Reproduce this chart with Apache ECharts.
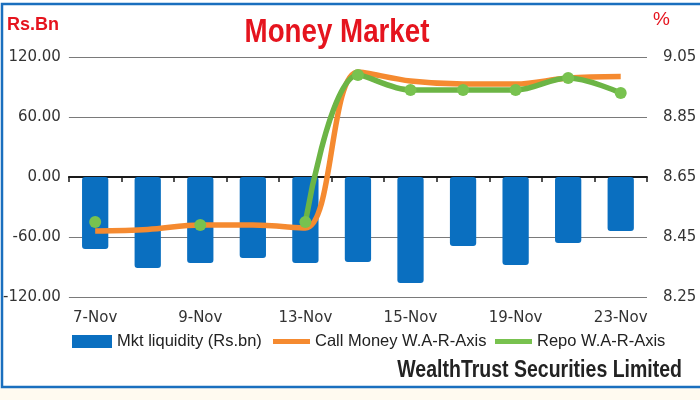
<!DOCTYPE html>
<html>
<head>
<meta charset="utf-8">
<script src="https://cdn.jsdelivr.net/npm/echarts@6/dist/echarts.min.js"></script>
<style>
html,body{margin:0;padding:0;background:#fff;}
#chart{width:700px;height:400px;}
</style>
</head>
<body>
<div id="chart"></div>
<script>
const categories = ['7-Nov','8-Nov','9-Nov','12-Nov','13-Nov','14-Nov','15-Nov','16-Nov','19-Nov','21-Nov','23-Nov'];
const mktLiquidity = [-72, -91, -86, -81, -86, -85, -106, -69, -88, -66, -54];
const callMoney = [8.47, 8.475, 8.49, 8.49, 8.48, 9.00, 8.97, 8.96, 8.96, 8.98, 8.985];
const repo = [8.50, null, 8.49, null, 8.50, 8.99, 8.94, 8.94, 8.94, 8.98, 8.93];
const leftTicks = {min: -120, max: 120, interval: 60};
const rightTicks = {min: 8.25, max: 9.05, interval: 0.2};
const seriesNames = ['Mkt liquidity (Rs.bn)', 'Call Money W.A-R-Axis', 'Repo W.A-R-Axis'];
const chartTitle = 'Money Market';
const leftUnit = 'Rs.Bn';
const rightUnit = '%';
const sourceText = 'WealthTrust Securities Limited';

const sans = '"Liberation Sans", Arial, sans-serif';
const legendText = {fontFamily: sans, fontSize: 16.5, color: '#222'};
const chart = echarts.init(document.getElementById('chart'));
chart.setOption({
  animation: false,
  backgroundColor: '#ffffff',
  graphic: [
    {type: 'rect', shape: {x: 0, y: 388, width: 700, height: 12}, style: {fill: '#fffaf0'}, silent: true, z: -10},
    {type: 'rect', shape: {x: 2, y: 4, width: 720, height: 383}, style: {fill: 'none', stroke: '#1a6fbe', lineWidth: 2.5}, silent: true, z: -5},
    {type: 'text', x: 337, y: 16, scaleX: 0.84, silent: true,
     style: {text: chartTitle, textAlign: 'center', textVerticalAlign: 'top', verticalAlign: 'top',
             font: 'bold 33px ' + sans, fill: '#e5141e'}},
    {type: 'text', x: 682, y: 359, scaleX: 0.83, silent: true,
     style: {text: sourceText, textAlign: 'right', textVerticalAlign: 'top', verticalAlign: 'top',
             font: 'bold 23.5px ' + sans, fill: '#222'}}
  ],
  title: [
    {text: leftUnit, left: 7, top: 16, padding: 0,
     textStyle: {fontFamily: sans, fontWeight: 'bold', fontSize: 18, color: '#e5141e'}},
    {text: rightUnit, left: 653, top: 10, padding: 0,
     textStyle: {fontFamily: sans, fontWeight: 'normal', fontSize: 19, color: '#e5141e'}}
  ],
  legend: [
    {left: 72, top: 333, itemWidth: 40, itemHeight: 13, padding: 0, textStyle: legendText,
     data: [{name: seriesNames[0], icon: 'rect'}]},
    {left: 273, top: 333, itemWidth: 37, itemHeight: 5, padding: 0, textStyle: legendText,
     data: [{name: seriesNames[1], icon: 'rect'}]},
    {left: 495, top: 333, itemWidth: 37, itemHeight: 5, padding: 0, textStyle: legendText,
     data: [{name: seriesNames[2], icon: 'rect'}]}
  ],
  grid: {left: 68, right: 53, top: 57, bottom: 103, containLabel: false},
  xAxis: [
    {type: 'category', data: categories, position: 'bottom',
     axisLine: {show: true, onZero: true, onZeroAxisIndex: 0, lineStyle: {color: '#1a1a1a', width: 2}},
     axisTick: {show: true, length: 5, lineStyle: {color: '#1a1a1a', width: 1.5}},
     axisLabel: {show: false}, splitLine: {show: false}},
    {type: 'category', data: categories, position: 'bottom',
     axisLine: {show: false}, axisTick: {show: false}, splitLine: {show: false},
     axisLabel: {show: true, interval: 1, margin: 14, color: '#333', fontFamily: '"DejaVu Sans", sans-serif', fontSize: 15}}
  ],
  yAxis: [
    {type: 'value', min: leftTicks.min, max: leftTicks.max, interval: leftTicks.interval, position: 'left',
     axisLine: {show: false}, axisTick: {show: false},
     splitLine: {show: true, lineStyle: {color: '#7a7a7a', width: 1.2}},
     axisLabel: {margin: 8, color: '#333', fontFamily: '"DejaVu Sans", sans-serif', fontSize: 15, formatter: v => v.toFixed(2)}},
    {type: 'value', min: rightTicks.min, max: rightTicks.max, interval: rightTicks.interval, position: 'right',
     axisLine: {show: false}, axisTick: {show: false}, splitLine: {show: false},
     axisLabel: {margin: 16, color: '#333', fontFamily: '"DejaVu Sans", sans-serif', fontSize: 15, formatter: v => v.toFixed(2)}}
  ],
  series: [
    {name: seriesNames[0], type: 'bar', data: mktLiquidity, xAxisIndex: 0, yAxisIndex: 0, barWidth: '50%',
     itemStyle: {color: '#0a6fc0', borderRadius: 3}},
    {name: seriesNames[1], type: 'line', data: callMoney, xAxisIndex: 0, yAxisIndex: 1, smooth: 0.35,
     symbol: 'none', connectNulls: true,
     lineStyle: {color: '#f58a30', width: 5.5}, itemStyle: {color: '#f58a30'}},
    {name: seriesNames[2], type: 'line', data: repo, xAxisIndex: 0, yAxisIndex: 1, smooth: 0.35,
     symbol: 'circle', symbolSize: 12, showAllSymbol: true, connectNulls: false,
     lineStyle: {color: '#6cb545', width: 5.5}, itemStyle: {color: '#78c24f'}}
  ]
});
</script>
</body>
</html>
